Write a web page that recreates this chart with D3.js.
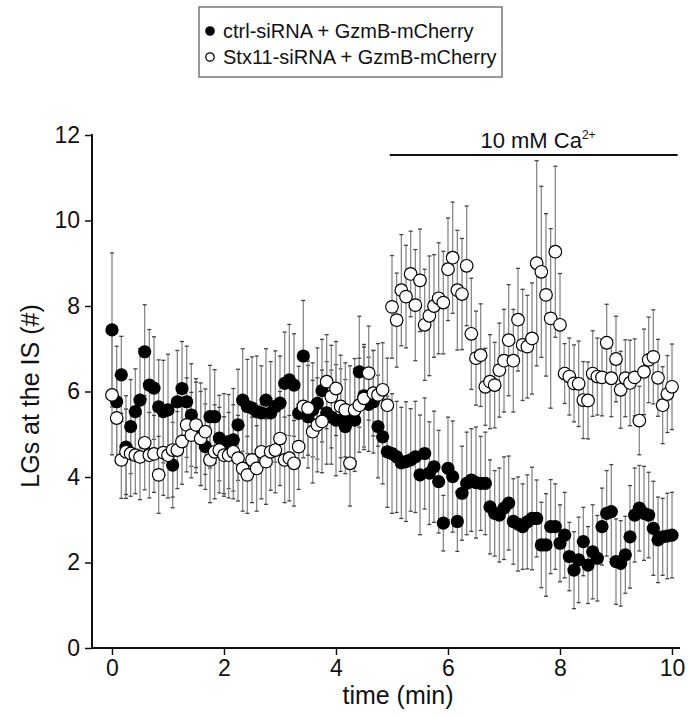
<!DOCTYPE html>
<html lang="en">
	<head>
		<meta charset="utf-8">
		<title>LGs at the IS</title>
		<script type="text/javascript" src="https://cdnjs.cloudflare.com/ajax/libs/d3/7.8.5/d3.min.js"></script>
		<style type="text/css">
			body { margin: 0; background: #fff; }
			svg text { font-family: "Liberation Sans", Arial, sans-serif; fill: #111; }
			.bar { stroke: #8a8a8a; stroke-width: 1.3; }
			.cap { stroke: #444; stroke-width: 1.3; }
		</style>
	</head>
	<body>
		<script type="text/javascript">

			//Width and height
			let w = 688;
			let h = 718;

			// time points (seconds)
			let timeSec = [0,5,10,15,20,25,30,35,40,45,50,55,60,65,70,75,80,85,90,95,100,105,110,115,120,125,130,135,140,145,150,155,160,165,170,175,180,185,190,195,200,205,210,215,220,225,230,235,240,245,250,255,260,265,270,275,280,285,290,295,300,305,310,315,320,325,330,335,340,345,350,355,360,365,370,375,380,385,390,395,400,405,410,415,420,425,430,435,440,445,450,455,460,465,470,475,480,485,490,495,500,505,510,515,520,525,530,535,540,545,550,555,560,565,570,575,580,585,590,595,600];

			// ctrl-siRNA + GzmB-mCherry
			let ctrlMean = [7.44,5.76,6.39,4.7,5.18,5.53,5.8,6.93,6.15,6.08,5.64,5.53,5.57,4.28,5.76,6.07,5.76,5.45,5.2,5.0,4.71,5.41,5.41,4.91,4.75,4.83,4.87,5.22,5.8,5.65,5.61,5.53,5.5,5.8,5.5,5.65,5.73,6.19,6.27,6.15,5.49,6.83,5.41,5.57,5.72,6.02,5.5,5.4,5.33,5.33,5.18,5.4,5.33,6.46,5.9,5.7,5.76,5.18,4.94,4.59,
				4.55,4.47,4.33,4.36,4.4,4.47,4.05,4.55,4.09,4.24,3.89,2.92,4.2,4.01,2.96,3.62,3.85,3.93,3.87,3.85,3.85,3.3,3.15,3.11,3.27,3.39,2.96,2.9,2.84,2.95,3.03,3.03,2.41,2.41,2.84,2.84,2.45,2.64,2.14,1.82,2.06,2.49,1.94,2.25,2.1,2.84,3.15,3.19,2.02,1.98,2.18,2.6,3.11,3.27,3.15,3.11,2.8,2.53,2.6,2.62,2.64];
			let ctrlErr = [1.8,1.3,0.9,1.2,1.1,1.0,1.2,1.1,1.3,1.2,1.1,1.2,1.3,1.0,1.2,1.1,1.3,1.2,1.1,1.2,1.0,1.2,1.1,1.0,1.2,1.1,1.2,1.3,1.2,1.1,1.2,1.3,1.1,1.2,1.2,1.3,1.1,1.2,1.3,1.2,1.1,1.3,1.2,1.1,1.3,1.2,1.2,1.1,1.3,1.2,1.1,1.2,1.2,1.3,1.2,1.1,1.2,1.2,1.1,1.3,
				1.4,1.3,1.3,1.4,1.2,1.3,1.4,1.3,1.2,1.3,1.2,0.65,1.2,1.3,0.7,1.1,1.2,1.2,1.3,1.1,1.2,1.1,1.0,1.1,1.2,1.1,1.0,1.1,1.0,1.1,1.2,0.9,1.0,1.2,1.1,1.0,0.9,1.0,0.8,0.9,1.0,0.8,0.9,1.1,1.0,0.9,1.0,1.1,1.0,1.0,0.9,1.2,1.1,1.0,1.1,1.0,1.1,1.0,0.9,1.0,1.0];

			// Stx11-siRNA + GzmB-mCherry
			let stxMean = [5.92,5.38,4.4,4.59,4.55,4.51,4.47,4.8,4.51,4.54,4.05,4.57,4.51,4.63,4.63,4.83,5.22,4.98,5.22,4.9,5.06,4.4,4.59,4.63,4.51,4.51,4.59,4.44,4.2,4.05,4.4,4.2,4.59,4.36,4.59,4.63,4.9,4.4,4.44,4.32,4.71,5.65,5.61,5.06,5.22,5.3,6.23,5.88,6.07,5.65,5.57,4.32,5.57,5.68,5.84,6.43,5.96,5.92,6.04,5.68,
				7.98,7.67,8.37,8.22,8.75,8.02,8.6,7.56,7.77,8.0,8.18,8.08,8.86,9.13,8.37,8.28,8.94,7.35,6.78,6.85,6.11,6.23,6.15,6.5,6.72,7.2,6.72,7.68,7.09,7.05,7.24,9.0,8.8,8.26,7.71,9.27,7.56,6.42,6.35,6.19,6.18,5.8,5.79,6.42,6.35,6.33,7.14,6.31,6.76,6.04,6.31,6.2,6.33,5.32,6.46,6.74,6.81,6.32,5.68,5.94,6.11];
			let stxErr = [1.4,1.0,0.9,1.0,1.0,0.9,1.0,1.1,1.0,0.9,0.9,1.0,1.0,1.1,0.9,1.0,1.1,1.0,1.0,1.1,1.0,1.0,1.1,1.0,0.9,1.0,1.1,1.0,1.0,0.9,1.0,1.0,1.1,1.0,0.9,1.0,1.1,1.0,1.0,1.0,1.0,1.2,1.1,1.2,1.1,1.2,1.1,1.2,1.1,1.2,1.1,1.0,1.2,1.1,1.2,1.1,1.0,1.2,1.1,1.1,
				1.2,1.1,1.3,1.2,1.0,1.3,1.2,1.3,1.4,1.2,1.3,1.2,1.2,1.3,1.4,1.3,1.4,1.3,1.1,1.2,0.9,1.1,1.0,1.1,1.2,1.3,1.2,1.2,1.3,1.2,1.3,2.4,2.0,1.9,2.1,2.0,1.2,0.7,0.9,0.9,1.0,0.9,0.9,1.0,0.9,0.9,0.9,0.9,1.0,0.9,0.9,1.0,0.9,0.8,1.0,1.0,1.1,0.9,0.9,0.9,1.0];

			let xTicks = [0, 2, 4, 6, 8, 10];
			let yTicks = [0, 2, 4, 6, 8, 10, 12];
			let legendLabels = ["ctrl-siRNA + GzmB-mCherry", "Stx11-siRNA + GzmB-mCherry"];
			let caStart = 4.96;   // min, start of the Ca2+ bar
			let caEnd = 10.1;

			let toSeries = (mean, err) => mean.map((m, i) => ({ t: timeSec[i] / 60, m: m, e: err[i] }));
			let ctrl = toSeries(ctrlMean, ctrlErr);
			let stx = toSeries(stxMean, stxErr);

			let xScale = d3.scaleLinear().domain([0, 10]).range([112, 672]);
			let yScale = d3.scaleLinear().domain([0, 12]).range([648, 135]);

			let svg = d3.select("body")
						.append("svg")
						.attr("width", w)
						.attr("height", h);

			//Axes
			let xAxis = d3.axisBottom(xScale).tickValues(xTicks).tickSize(7).tickSizeOuter(0).tickPadding(5);
			let yAxis = d3.axisLeft(yScale).tickValues(yTicks).tickSize(7).tickSizeOuter(0).tickPadding(5);

			let gx = svg.append("g")
				.attr("transform", "translate(0,648)")
				.call(xAxis);
			gx.select(".domain").remove();
			gx.append("line")
				.attr("x1", 91).attr("x2", 680)
				.attr("y1", 0).attr("y2", 0)
				.attr("stroke", "#111").attr("stroke-width", 2);

			let gy = svg.append("g")
				.attr("transform", "translate(92,0)")
				.call(yAxis);
			gy.select(".domain").remove();
			gy.append("line")
				.attr("x1", 0).attr("x2", 0)
				.attr("y1", 134).attr("y2", 649)
				.attr("stroke", "#111").attr("stroke-width", 2);

			svg.selectAll(".tick line").attr("stroke", "#111").attr("stroke-width", 1.5);
			svg.selectAll(".tick text").style("font-size", "23px").attr("fill", "#111");

			svg.append("text")
				.attr("x", 398)
				.attr("y", 704)
				.style("text-anchor", "middle")
				.style("font-size", "25px")
				.text("time (min)");

			svg.append("text")
				.attr("transform", "translate(39,396) rotate(-90)")
				.style("text-anchor", "middle")
				.style("font-size", "25px")
				.text("LGs at the IS (#)");

			//Ca2+ bar
			svg.append("line")
				.attr("x1", xScale(caStart)).attr("x2", xScale(caEnd))
				.attr("y1", 155).attr("y2", 155)
				.attr("stroke", "#111").attr("stroke-width", 2);

			let ca = svg.append("text")
				.attr("x", 538)
				.attr("y", 148)
				.style("text-anchor", "middle")
				.style("font-size", "22px");
			ca.append("tspan").text("10 mM Ca");
			ca.append("tspan").attr("dy", -9).style("font-size", "12px").text("2+");

			//Error bars
			let drawBars = (data) => {
				let g = svg.append("g");
				g.selectAll("line.bar")
					.data(data)
					.enter()
					.append("line")
					.attr("class", "bar")
					.attr("x1", d => xScale(d.t)).attr("x2", d => xScale(d.t))
					.attr("y1", d => yScale(d.m - d.e)).attr("y2", d => yScale(d.m + d.e));
				[-1, 1].forEach(s => {
					g.selectAll("line.cap" + (s + 1))
						.data(data)
						.enter()
						.append("line")
						.attr("class", "cap")
						.attr("x1", d => xScale(d.t) - 2).attr("x2", d => xScale(d.t) + 2)
						.attr("y1", d => yScale(d.m + s * d.e)).attr("y2", d => yScale(d.m + s * d.e));
				});
			};
			drawBars(ctrl);
			drawBars(stx);

			//Points
			svg.append("g").selectAll("circle")
				.data(ctrl)
				.enter()
				.append("circle")
				.attr("cx", d => xScale(d.t))
				.attr("cy", d => yScale(d.m))
				.attr("r", 6.6)
				.attr("fill", "#000");

			svg.append("g").selectAll("circle")
				.data(stx)
				.enter()
				.append("circle")
				.attr("cx", d => xScale(d.t))
				.attr("cy", d => yScale(d.m))
				.attr("r", 6.3)
				.attr("fill", "#fff")
				.attr("stroke", "#000")
				.attr("stroke-width", 1.2);

			//Legend
			svg.append("rect")
				.attr("x", 199).attr("y", 7)
				.attr("width", 303).attr("height", 70)
				.attr("fill", "none")
				.attr("stroke", "#777")
				.attr("stroke-width", 1.5);

			let lg = svg.selectAll(".lg")
				.data(legendLabels)
				.enter()
				.append("g")
				.attr("class", "lg")
				.attr("transform", (d, i) => "translate(0," + (31 + i * 26) + ")");
			lg.append("circle")
				.attr("cx", 210)
				.attr("cy", 0)
				.attr("r", (d, i) => i === 0 ? 4.8 : 4.2)
				.attr("fill", (d, i) => i === 0 ? "#000" : "#fff")
				.attr("stroke", "#000")
				.attr("stroke-width", (d, i) => i === 0 ? 0 : 1.3);
			lg.append("text")
				.attr("x", 223)
				.attr("y", 7)
				.style("font-size", "20px")
				.text(d => d);

		</script>
	</body>
</html>
